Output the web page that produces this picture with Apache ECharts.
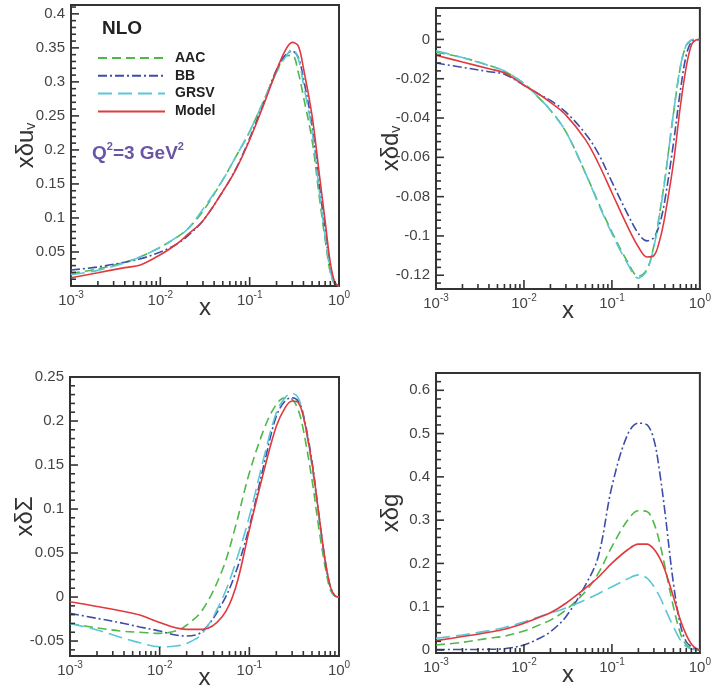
<!DOCTYPE html>
<html><head><meta charset="utf-8">
<script src="https://cdn.jsdelivr.net/npm/echarts@6/dist/echarts.min.js"></script>
<style>html,body{margin:0;padding:0;background:#fff}#c{width:714px;height:693px}</style>
</head><body><div id="c"></div>
<script>
// ---------- data ----------
const xValues = [0.001,0.002,0.004,0.006,0.01,0.015,0.02,0.03,0.05,0.07,0.1,0.15,0.2,0.25,0.3,0.35,0.4,0.5,0.6,0.7,0.8,0.9,1.0];

const uvAAC   = [0.0185,0.025,0.035,0.043,0.057,0.071,0.083,0.110,0.156,0.190,0.227,0.278,0.314,0.338,0.339,0.314,0.278,0.214,0.132,0.068,0.0195,0.002,0];
const uvBB    = [0.0234,0.028,0.035,0.040,0.050,0.061,0.073,0.096,0.139,0.172,0.217,0.276,0.318,0.339,0.345,0.336,0.305,0.235,0.150,0.082,0.027,0.004,0];
const uvGRSV  = [0.0166,0.023,0.034,0.043,0.057,0.071,0.083,0.113,0.156,0.190,0.227,0.278,0.314,0.336,0.348,0.334,0.297,0.227,0.141,0.073,0.022,0.002,0];
const uvModel = [0.012,0.0195,0.027,0.031,0.046,0.061,0.075,0.096,0.139,0.171,0.215,0.273,0.317,0.346,0.358,0.353,0.320,0.250,0.166,0.095,0.034,0.005,0];

const dvAAC   = [-0.0065,-0.0092,-0.0132,-0.0162,-0.0224,-0.030,-0.036,-0.047,-0.068,-0.083,-0.098,-0.113,-0.1205,-0.117,-0.105,-0.088,-0.071,-0.038,-0.014,-0.003,-0.0004,0,0];
const dvBB    = [-0.012,-0.0142,-0.0164,-0.0177,-0.0233,-0.028,-0.031,-0.037,-0.048,-0.058,-0.0725,-0.0886,-0.0988,-0.1025,-0.1008,-0.0937,-0.0818,-0.053,-0.026,-0.008,-0.0012,0,0];
const dvGRSV  = [-0.0058,-0.0092,-0.0133,-0.016,-0.0224,-0.030,-0.036,-0.047,-0.068,-0.0835,-0.0988,-0.114,-0.1215,-0.1175,-0.1056,-0.0886,-0.0716,-0.0377,-0.0139,-0.0029,-0.0003,0.0002,0];
const dvModel = [-0.008,-0.0115,-0.0149,-0.017,-0.0233,-0.028,-0.032,-0.0385,-0.051,-0.063,-0.078,-0.095,-0.1056,-0.1107,-0.110,-0.102,-0.090,-0.063,-0.034,-0.014,-0.003,-0.0003,0];

const sgAAC   = [-0.030,-0.035,-0.039,-0.040,-0.0413,-0.0386,-0.0318,-0.0148,0.0308,0.080,0.141,0.194,0.2189,0.2265,0.2246,0.213,0.190,0.133,0.076,0.0346,0.008,0.001,0];
const sgBB    = [-0.0186,-0.0242,-0.030,-0.034,-0.0386,-0.0432,-0.0443,-0.039,-0.007,0.027,0.080,0.156,0.2056,0.2227,0.2265,0.2227,0.2075,0.154,0.0915,0.042,0.012,0.0015,0];
const sgGRSV  = [-0.030,-0.0375,-0.047,-0.052,-0.0565,-0.0557,-0.0527,-0.0413,-0.0015,0.0384,0.0916,0.164,0.2094,0.2265,0.2314,0.2265,0.2056,0.1486,0.0877,0.040,0.011,0.001,0];
const sgModel = [-0.0053,-0.0107,-0.0165,-0.0205,-0.029,-0.035,-0.0367,-0.0367,-0.022,0.010,0.0765,0.1486,0.194,0.215,0.2227,0.221,0.2056,0.152,0.092,0.042,0.0118,0.0015,0];

const gAAC    = [0.0116,0.0177,0.027,0.032,0.044,0.058,0.069,0.0925,0.135,0.177,0.239,0.299,0.3216,0.320,0.293,0.247,0.193,0.100,0.0386,0.0116,0.004,0.001,0];
const gBB     = [0.001,0.001,0.0015,0.003,0.0116,0.027,0.042,0.077,0.150,0.216,0.378,0.497,0.524,0.5205,0.486,0.409,0.320,0.154,0.058,0.019,0.0077,0.0015,0];
const gGRSV   = [0.027,0.0347,0.0447,0.0517,0.0648,0.077,0.085,0.097,0.116,0.130,0.146,0.164,0.1735,0.166,0.1465,0.123,0.0964,0.054,0.023,0.0077,0.002,0.0005,0];
const gModel  = [0.0216,0.031,0.041,0.048,0.062,0.0756,0.086,0.108,0.143,0.168,0.2005,0.231,0.2445,0.2445,0.233,0.212,0.185,0.123,0.069,0.035,0.014,0.004,0];

// tick labels
const xExponents = [-3,-2,-1,0];
const uvTicks = [0.05,0.1,0.15,0.2,0.25,0.3,0.35,0.4];
const dvTicks = [0,-0.02,-0.04,-0.06,-0.08,-0.1,-0.12];
const sgTicks = [-0.05,0,0.05,0.1,0.15,0.2,0.25];
const gTicks  = [0,0.1,0.2,0.3,0.4,0.5,0.6];

const seriesNames = ['AAC','BB','GRSV','Model'];
const colors = ['#4fb848','#3c4ea5','#5bc6d6','#e03a3e'];
const dashes = [[9,5],[9,3,2,3],[14,6],'solid'];

// ---------- layout ----------
const FONT = 'Liberation Sans, Arial, sans-serif';
const AX = '#333';
const panels = [
  {grid:{left:71, top:5, width:268, height:281}, min:0, max:0.413, ticks:uvTicks, minorStep:0.01, name:'{n|x\u03b4u}{s|v}', data:[uvAAC,uvBB,uvGRSV,uvModel]},
  {grid:{left:436, top:8, width:269, height:281}, min:-0.127, max:0.016, ticks:dvTicks, minorStep:0.004, name:'{n|x\u03b4d}{s|v}', data:[dvAAC,dvBB,dvGRSV,dvModel]},
  {grid:{left:70, top:377, width:269, height:279}, min:-0.067, max:0.25, ticks:sgTicks, minorStep:0.01, name:'{n|x\u03b4\u03a3}', data:[sgAAC,sgBB,sgGRSV,sgModel]},
  {grid:{left:436, top:373, width:269, height:280}, min:-0.007, max:0.64, ticks:gTicks, minorStep:0.02, name:'{n|x\u03b4g}', data:[gAAC,gBB,gGRSV,gModel]}
];

function minorValues(min, max, step){
  const out = [];
  const k0 = Math.ceil(min/step - 1e-9), k1 = Math.floor(max/step + 1e-9);
  for (let k = k0; k <= k1; k++) out.push(Math.round(k*step*1e6)/1e6);
  return out;
}
const xMajorTicks = [0.01, 0.1];
const xMinorTicks = [];
for (const d of [0.001, 0.01, 0.1]) for (let m = 2; m <= 9; m++) xMinorTicks.push(Math.round(m*d*1e6)/1e6);

const grid = [], xAxis = [], yAxis = [], series = [];
panels.forEach((p, i) => {
  grid.push(Object.assign({show:true, borderColor:AX, borderWidth:2}, p.grid));
  xAxis.push({
    type:'log', logBase:10, min:0.001, max:1, gridIndex:i, position:'bottom',
    name:'x', nameLocation:'middle', nameGap:10, nameMoveOverlap:false,
    nameTextStyle:{fontFamily:FONT, fontSize:24, color:'#333'},
    axisLine:{show:true, onZero:false, lineStyle:{color:AX, width:2}},
    axisTick:{show:false}, splitLine:{show:false}, minorTick:{show:false},
    axisLabel:{margin:4, showMinLabel:true, showMaxLabel:true,
      formatter:(v)=>{ const e = Math.round(Math.log10(v)); return xExponents.indexOf(e) >= 0 ? '{b|10}{s|' + e + '}' : ''; },
      rich:{ b:{fontFamily:FONT, fontSize:15, color:'#444', lineHeight:18, verticalAlign:'bottom'},
             s:{fontFamily:FONT, fontSize:10, color:'#444', lineHeight:10, verticalAlign:'top'} } }
  });
  yAxis.push({
    type:'value', min:p.min, max:p.max, gridIndex:i, position:'left',
    name:p.name, nameLocation:'middle', nameGap:33, nameMoveOverlap:false,
    nameTextStyle:{rich:{ n:{fontFamily:FONT, fontSize:24, color:'#333', lineHeight:28, verticalAlign:'bottom'},
                          s:{fontFamily:FONT, fontSize:14, color:'#333', lineHeight:12, verticalAlign:'bottom'} }},
    axisLine:{show:true, onZero:false, lineStyle:{color:AX, width:2}},
    axisTick:{show:false},
    axisLabel:{customValues:p.ticks, margin:6, fontFamily:FONT, fontSize:15, color:'#444'},
    splitLine:{show:false}
  });
  p.data.forEach((arr, k) => {
    series.push({
      name:seriesNames[k], type:'line', xAxisIndex:i, yAxisIndex:i,
      data:xValues.map((x, j) => [x, arr[j]]),
      symbol:'none', smooth:0.35, clip:true, z: 3 + (k === 3 ? 1 : 0),
      lineStyle:{color:colors[k], width:1.6, type:dashes[k]},
      itemStyle:{color:colors[k]}
    });
  });
});

const option = {
  animation:false,
  grid, xAxis, yAxis, series,
  legend:{
    data:seriesNames, orient:'vertical', left:92, top:46,
    itemWidth:67, itemHeight:14, itemGap:3.8, selectedMode:false,
    itemStyle:{opacity:0},
    textStyle:{fontFamily:FONT, fontSize:14, fontWeight:'bold', color:'#222', padding:[0,0,0,5]}
  },
  title:[
    {text:'NLO', left:102, top:19, padding:0,
     textStyle:{fontFamily:FONT, fontSize:19, fontWeight:'bold', color:'#222'}},
    {text:'{q|Q}{s|2}{q|=3 GeV}{s|2}', left:92, top:141, padding:0,
     textStyle:{rich:{ q:{fontFamily:FONT, fontSize:19, fontWeight:'bold', color:'#6a55a5', lineHeight:22, verticalAlign:'bottom'},
                       s:{fontFamily:FONT, fontSize:11, fontWeight:'bold', color:'#6a55a5', lineHeight:11, verticalAlign:'top'} }}}
  ]
};
const chart = echarts.init(document.getElementById('c'), null, {renderer:'canvas'});
chart.setOption(option);

// inside tick marks, positioned through the axes' own scales
const tickEls = [];
panels.forEach((p, i) => {
  const f = {xAxisIndex:i, yAxisIndex:i};
  const bottom = chart.convertToPixel(f, [0.01, p.min])[1];
  const left = chart.convertToPixel(f, [0.001, 0])[0];
  const addX = (v, len) => {
    const px = chart.convertToPixel(f, [v, p.min])[0];
    tickEls.push({type:'line', silent:true, z:100, shape:{x1:px, y1:bottom, x2:px, y2:bottom - len}, style:{stroke:AX, lineWidth:1.6}});
  };
  const addY = (v, len) => {
    const py = chart.convertToPixel(f, [0.01, v])[1];
    tickEls.push({type:'line', silent:true, z:100, shape:{x1:left, y1:py, x2:left + len, y2:py}, style:{stroke:AX, lineWidth:1.6}});
  };
  xMajorTicks.forEach(v => addX(v, 9));
  xMinorTicks.forEach(v => addX(v, 5));
  p.ticks.forEach(v => addY(v, 8));
  minorValues(p.min, p.max, p.minorStep).filter(v => p.ticks.indexOf(v) < 0).forEach(v => addY(v, 5));
});
chart.setOption({graphic:{elements:tickEls}});
</script>
</body></html>
